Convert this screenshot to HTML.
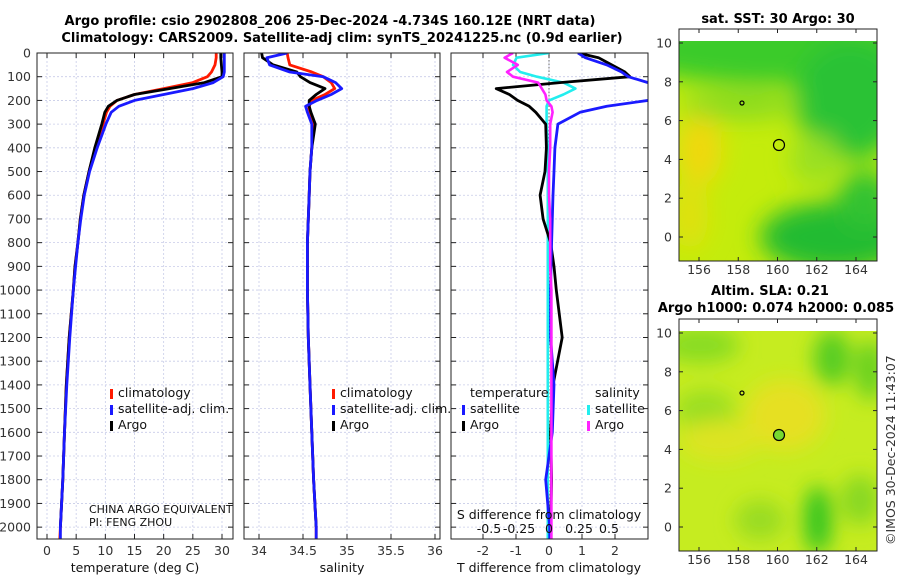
<!DOCTYPE html>
<html><head><meta charset="utf-8">
<style>
html,body{margin:0;padding:0;background:#fff;}
svg{display:block;font-family:"DejaVu Sans","Liberation Sans",sans-serif;}
.tk{font-size:12.5px;fill:#333;}
.ttl{font-size:13px;font-weight:bold;fill:#000;}
.lg{font-size:12.5px;fill:#111;}
</style></head>
<body>
<svg id="fig" width="900" height="580" viewBox="0 0 900 580">
<defs>
<filter id="bl1" x="-50%" y="-50%" width="200%" height="200%"><feGaussianBlur stdDeviation="12"/></filter>
<filter id="bl2" x="-50%" y="-50%" width="200%" height="200%"><feGaussianBlur stdDeviation="10"/></filter>
<clipPath id="cm1"><rect x="679" y="41" width="198" height="220"/></clipPath>
<clipPath id="cm2"><rect x="679" y="331" width="198" height="220"/></clipPath>
<clipPath id="cp1"><rect x="37" y="53" width="196" height="486"/></clipPath>
<clipPath id="cp2"><rect x="244" y="53" width="196" height="486"/></clipPath>
<clipPath id="cp3"><rect x="451" y="53" width="197" height="486"/></clipPath>
</defs>
<text x="330" y="25" text-anchor="middle" class="ttl">Argo profile: csio 2902808_206 25-Dec-2024 -4.734S 160.12E (NRT data)</text>
<text x="342" y="42" text-anchor="middle" class="ttl">Climatology: CARS2009. Satellite-adj clim: synTS_20241225.nc (0.9d earlier)</text>

<g id="maps">
<text x="778" y="23" text-anchor="middle" class="ttl">sat. SST: 30 Argo: 30</text>
<g clip-path="url(#cm1)">
<rect x="679" y="41" width="198" height="220" fill="#c4ec0c"/>
<g filter="url(#bl1)">
<ellipse cx="770" cy="50" rx="150" ry="35" fill="#3acb2a"/>
<ellipse cx="850" cy="100" rx="55" ry="60" fill="#2cc236"/>
<ellipse cx="740" cy="105" rx="60" ry="14" fill="#88da20"/>
<ellipse cx="700" cy="150" rx="22" ry="35" fill="#f0d808"/>
<ellipse cx="690" cy="215" rx="18" ry="35" fill="#e0e010"/>
<ellipse cx="835" cy="237" rx="75" ry="35" fill="#22bb33"/>
<ellipse cx="865" cy="200" rx="28" ry="30" fill="#33c230"/>
<ellipse cx="815" cy="160" rx="25" ry="25" fill="#9ae020"/>
</g>
</g>
<rect x="679" y="29" width="198" height="232" fill="none" stroke="#222" stroke-width="1"/>
<circle cx="779" cy="145" r="5.5" fill="none" stroke="#000" stroke-width="1.2"/>
<circle cx="742" cy="103" r="2" fill="none" stroke="#000" stroke-width="1.2"/>

<text x="770" y="295" text-anchor="middle" class="ttl">Altim. SLA: 0.21</text>
<text x="776" y="312" text-anchor="middle" class="ttl">Argo h1000: 0.074 h2000: 0.085</text>
<g clip-path="url(#cm2)">
<rect x="679" y="331" width="198" height="220" fill="#c6ec20"/>
<g filter="url(#bl2)">
<ellipse cx="700" cy="345" rx="40" ry="18" fill="#88dc20"/>
<ellipse cx="832" cy="358" rx="18" ry="28" fill="#55cc22"/>
<ellipse cx="870" cy="370" rx="15" ry="30" fill="#66d020"/>
<ellipse cx="705" cy="410" rx="30" ry="20" fill="#9ade20"/>
<ellipse cx="785" cy="415" rx="40" ry="35" fill="#e6e020"/>
<ellipse cx="720" cy="440" rx="40" ry="20" fill="#dde420"/>
<ellipse cx="818" cy="520" rx="14" ry="34" fill="#33c424"/>
<ellipse cx="760" cy="520" rx="25" ry="20" fill="#99dc22"/>
<ellipse cx="860" cy="500" rx="20" ry="25" fill="#88d822"/>
</g>
</g>
<rect x="679" y="319" width="198" height="232" fill="none" stroke="#222" stroke-width="1"/>
<circle cx="779" cy="435" r="5.5" fill="#77d830" stroke="#000" stroke-width="1.2"/>
<circle cx="742" cy="393" r="2" fill="none" stroke="#000" stroke-width="1.2"/>
<text transform="translate(895,545) rotate(-90)" class="tk" style="font-size:12.5px">©IMOS 30-Dec-2024 11:43:07</text>
</g>
</svg>
<script>
// ---- data ----
const depths = [0,20,50,80,100,125,150,175,200,225,250,300,400,500,600,700,800,900,1000,1200,1400,1600,1800,2000,2050];
const tempClim = [29,29,28.8,28.2,27.5,25,20,15,12,10.8,10.2,9.6,8.3,7.2,6.3,5.7,5.3,4.8,4.5,3.8,3.3,3.0,2.7,2.3,2.2];
const tempSat = [30.4,30.4,30.4,30.4,30.2,28.5,25,20,15,12.3,11,10.1,8.6,7.3,6.4,5.8,5.3,4.9,4.5,3.9,3.4,3.0,2.7,2.3,2.3];
const tempArgo = [29.8,29.8,29.9,30,30,27,21,15,12,10.5,9.9,9.4,8.2,7.2,6.3,5.7,5.3,4.8,4.5,3.8,3.3,3.0,2.7,2.3,null];
const salClim = [34.32,34.33,34.35,34.6,34.73,34.82,34.86,34.75,34.6,34.57,34.56,34.61,34.6,34.58,34.57,34.56,34.55,34.55,34.55,34.56,34.58,34.6,34.62,34.65,34.65];
const salSat = [34.32,34.09,34.12,34.35,34.73,34.87,34.94,34.82,34.66,34.53,34.55,34.6,34.6,34.58,34.57,34.56,34.55,34.55,34.55,34.56,34.58,34.6,34.62,34.65,34.65];
const salArgo = [34.03,34.04,34.16,34.43,34.47,34.58,34.75,34.65,34.57,34.57,34.59,34.64,34.6,34.58,34.57,34.56,34.55,34.55,34.55,34.56,34.58,34.6,34.62,34.65,null];
const dTsat = [0.88,1.1,1.75,2.2,2.4,3,3.5,3.5,3,1.75,0.94,0.27,0.18,0.15,0.12,0.1,0.08,0.06,0.05,0.05,0.15,0.1,-0.1,0.02,0.02];
const dTargo = [0.88,1.5,1.9,2.3,2.45,0.33,-1.6,-1.2,-0.95,-0.6,-0.4,-0.1,-0.08,-0.12,-0.27,-0.18,0.05,0.15,0.22,0.4,0.12,0.05,0.08,0.05,null];
const dSsat = [0,-0.27,-0.3,-0.24,-0.1,0.12,0.22,0.12,0,-0.02,-0.02,-0.02,-0.01,-0.01,-0.01,-0.01,-0.01,-0.01,-0.01,-0.01,-0.01,-0.01,-0.01,-0.01,-0.01];
const dSargo = [-0.3,-0.37,-0.26,-0.35,-0.3,-0.09,-0.06,-0.03,-0.02,0.02,0.03,0.01,0.01,0,0,0.01,0.01,0.01,0.02,0.02,0.02,0.02,0.02,0.02,0.02];
const depthTicks = [0,100,200,300,400,500,600,700,800,900,1000,1100,1200,1300,1400,1500,1600,1700,1800,1900,2000];
const tempTicks = [0,5,10,15,20,25,30];
const salTicks = [34,34.5,35,35.5,36];
const dTTicks = [-2,-1,0,1,2];
const dSTicks = [-0.5,-0.25,0,0.25,0.5];
const dSTickLabels = ["-0.5","-0.25","0","0.25","0.5"];
const lonTicks = [156,158,160,162,164];
const latTicks = [0,2,4,6,8,10];

const NS='http://www.w3.org/2000/svg';
const svg=document.getElementById('fig');
function mk(tag,attrs,parent){const e=document.createElementNS(NS,tag);for(const k in attrs)e.setAttribute(k,attrs[k]);(parent||svg).appendChild(e);return e;}
const Y0=53, Y1=539, DMAX=2050;
const yD = d => Y0 + d*(Y1-Y0)/DMAX;
function lin(d0,r0,d1,r1){return v=>r0+(v-d0)*(r1-r0)/(d1-d0);}
const xT = lin(0,47,30,222);
const xS = lin(34,259,36,435);
const xdT = lin(0,549,2,615);
const xdS = lin(0,549,0.5,609);

function panel(name,L,R,xf,ticks,tickLabels,showY){
  const g=mk('g',{});
  
  
  depthTicks.forEach(d=>{
    mk('line',{x1:L,x2:R,y1:yD(d),y2:yD(d),stroke:'#c8cce8','stroke-width':0.8,'stroke-dasharray':'2,2'},g);
    mk('line',{x1:L,x2:L+5,y1:yD(d),y2:yD(d),stroke:'#222'},g);
    mk('line',{x1:R-5,x2:R,y1:yD(d),y2:yD(d),stroke:'#222'},g);
    if(showY){const t=mk('text',{x:31,y:yD(d)+4.5,'text-anchor':'end',class:'tk'},g);t.textContent=d;
      
      }
  });
  ticks.forEach((v,i)=>{
    const x=xf(v);
    mk('line',{x1:x,x2:x,y1:Y0,y2:Y1,stroke:'#c8cce8','stroke-width':0.8,'stroke-dasharray':'2,2'},g);
    mk('line',{x1:x,x2:x,y1:Y1-5,y2:Y1,stroke:'#222'},g);
    mk('line',{x1:x,x2:x,y1:Y0,y2:Y0+5,stroke:'#222'},g);
    const t=mk('text',{x:x,y:555,'text-anchor':'middle',class:'tk'},g);t.textContent=tickLabels[i];
    
    
  });
  return g;
}
function series(name,xs,xf,color,clip,w){
  let d='';
  xs.forEach((v,i)=>{if(v===null)return;d+=(d?'L':'M')+xf(v).toFixed(1)+','+yD(depths[i]).toFixed(1);});
  const p=mk('path',{d:d,fill:'none',stroke:color,'stroke-width':w||2.8,'stroke-linejoin':'round','clip-path':'url(#'+clip+')'});
  
  
}
function frame(L,R){mk('rect',{x:L,y:Y0,width:R-L,height:Y1-Y0,fill:'none',stroke:'#222','stroke-width':1});}
function txt(x,y,s,name,cls,anchor){const t=mk('text',{x:x,y:y,class:cls||'lg','text-anchor':anchor||'start'});t.textContent=s;
  
  return t;}
function mark(x,y,c){const r=mk('rect',{x:x,y:y-10,width:3,height:10,fill:c});
  
  }

// panel 1
panel('temperature-panel',37,233,xT,tempTicks,tempTicks.map(String),true);
series('temp-climatology-line',tempClim,xT,'#ff1a00','cp1');
series('temp-argo-line',tempArgo,xT,'#000','cp1');
series('temp-satellite-line',tempSat,xT,'#1a1aff','cp1');
frame(37,233);
txt(135,572,'temperature (deg C)','x-axis-title-temperature','lg','middle');
mark(110,399,'#ff1a00');txt(118,397,'climatology','legend-climatology');
mark(110,415,'#1a1aff');txt(118,413,'satellite-adj. clim.','legend-satellite');
mark(110,431,'#000');txt(118,429,'Argo','legend-argo');
txt(89,513,'CHINA ARGO EQUIVALENT','pi-institution','lg').setAttribute('style','font-size:11px');
txt(89,526,'PI: FENG ZHOU','pi-name','lg').setAttribute('style','font-size:11px');

// panel 2
panel('salinity-panel',244,440,xS,salTicks,salTicks.map(String),false);
series('sal-climatology-line',salClim,xS,'#ff1a00','cp2');
series('sal-argo-line',salArgo,xS,'#000','cp2');
series('sal-satellite-line',salSat,xS,'#1a1aff','cp2');
frame(244,440);
txt(342,572,'salinity','x-axis-title-salinity','lg','middle');
mark(332,399,'#ff1a00');txt(340,397,'climatology','legend-climatology');
mark(332,415,'#1a1aff');txt(340,413,'satellite-adj. clim.','legend-satellite');
mark(332,431,'#000');txt(340,429,'Argo','legend-argo');

// panel 3
panel('difference-panel',451,648,xdT,dTTicks,dTTicks.map(String),false);
mk('line',{x1:549,x2:549,y1:Y0,y2:Y1,stroke:'#444','stroke-width':0.8,'stroke-dasharray':'1.5,2'});
series('dS-satellite-line',dSsat,xdS,'#22eeee','cp3',2.6);
series('dT-argo-line',dTargo,xdT,'#000','cp3');
series('dT-satellite-line',dTsat,xdT,'#1a1aff','cp3');
series('dS-argo-line',dSargo,xdS,'#ff22ff','cp3',2.6);
frame(451,648);
dSTicks.forEach((v,i)=>{txt(xdS(v),533,dSTickLabels[i],'s-diff-tick-label','lg','middle');});
txt(549,519,'S difference from climatology','s-diff-axis-title','lg','middle');
txt(549,572,'T difference from climatology','t-diff-axis-title','lg','middle');
txt(470,397,'temperature','legend-temperature-header');
txt(595,397,'salinity','legend-salinity-header');
mark(462,415,'#1a1aff');txt(470,413,'satellite','legend-t-satellite');
mark(462,431,'#000');txt(470,429,'Argo','legend-t-argo');
mark(587,415,'#22eeee');txt(595,413,'satellite','legend-s-satellite');
mark(587,431,'#ff22ff');txt(595,429,'Argo','legend-s-argo');

// map axes
const xLon = lin(156,699,164,856);
[[lin(0,237,10,43),29,261],[lin(0,527,10,333),319,551]].forEach((m,mi)=>{
  const yl=m[0];
  lonTicks.forEach(v=>{const x=xLon(v);
    mk('line',{x1:x,x2:x,y1:m[2]-4,y2:m[2],stroke:'#222'});
    mk('line',{x1:x,x2:x,y1:m[1],y2:m[1]+4,stroke:'#222'});
    txt(x,m[2]+13,String(v),'lon-tick-label','tk','middle');});
  latTicks.forEach(v=>{const y=yl(v);
    mk('line',{x1:679,x2:683,y1:y,y2:y,stroke:'#222'});
    mk('line',{x1:873,x2:877,y1:y,y2:y,stroke:'#222'});
    txt(672,y+4.5,String(v),'lat-tick-label','tk','end');});
});
</script>
</body></html>
